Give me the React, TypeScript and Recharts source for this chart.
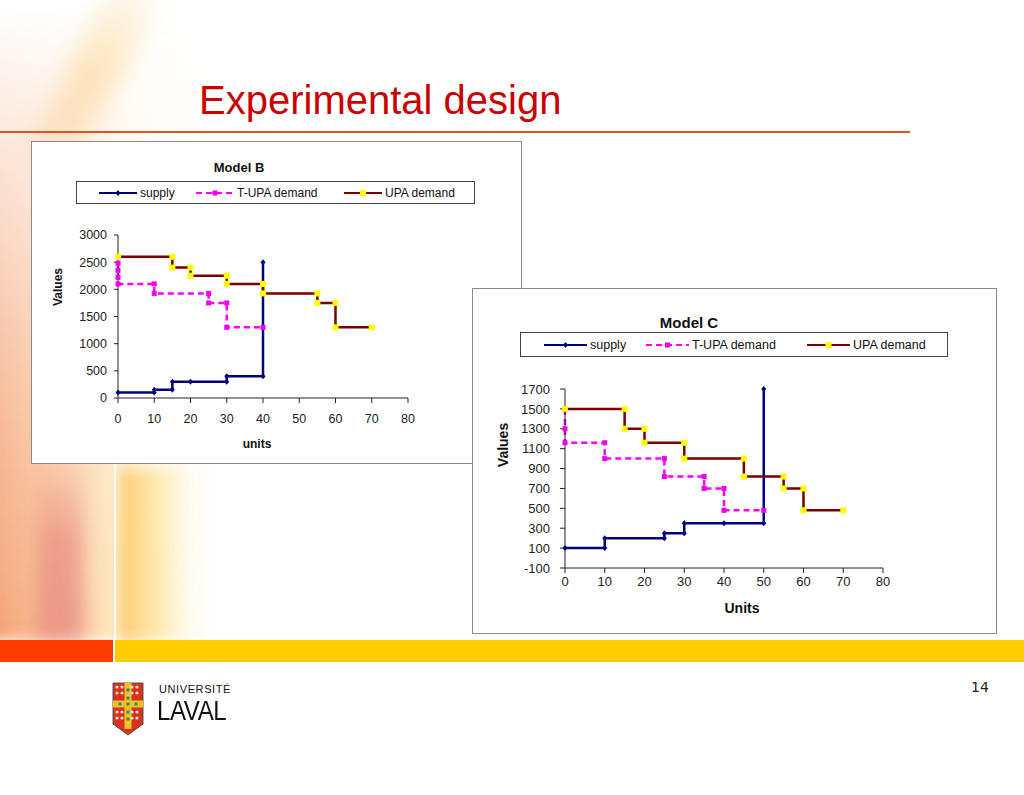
import { LineChart, Line, XAxis, YAxis } from "recharts";

// Model B
const B_SUPPLY_UNITS = [0, 10, 10, 15, 15, 20, 30, 30, 40, 40];
const B_SUPPLY_VALUES = [100, 100, 150, 150, 300, 300, 300, 400, 400, 2500];
const B_TUPA_UNITS = [0, 0, 0, 0, 10, 10, 25, 25, 30, 30, 40];
const B_TUPA_VALUES = [2480, 2350, 2220, 2100, 2100, 1925, 1925, 1750, 1750, 1300, 1300];
const B_UPA_UNITS = [0, 15, 15, 20, 20, 30, 30, 40, 40, 55, 55, 60, 60, 70];
const B_UPA_VALUES = [2600, 2600, 2400, 2400, 2250, 2250, 2100, 2100, 1925, 1925, 1750, 1750, 1300, 1300];

// Model C
const C_SUPPLY_UNITS = [0, 10, 10, 25, 25, 30, 30, 40, 50, 50];
const C_SUPPLY_VALUES = [100, 100, 200, 200, 250, 250, 350, 350, 350, 1700];
const C_TUPA_UNITS = [0, 0, 0, 10, 10, 25, 25, 35, 35, 40, 40, 50];
const C_TUPA_VALUES = [1500, 1300, 1160, 1160, 1000, 1000, 820, 820, 700, 700, 480, 480];
const C_UPA_UNITS = [0, 15, 15, 20, 20, 30, 30, 45, 45, 55, 55, 60, 60, 70];
const C_UPA_VALUES = [1500, 1500, 1300, 1300, 1160, 1160, 1000, 1000, 820, 820, 700, 700, 480, 480];

const X_TICKS = [0, 10, 20, 30, 40, 50, 60, 70, 80];
const B_Y_TICKS = [0, 500, 1000, 1500, 2000, 2500, 3000];
const C_Y_TICKS = [-100, 100, 300, 500, 700, 900, 1100, 1300, 1500, 1700];
const SERIES_NAMES = ["supply", "T-UPA demand", "UPA demand"];

const FONT = "'Liberation Sans', Arial, sans-serif";

type Pt = { x: number; y: number };
const toPoints = (units: number[], values: number[]): Pt[] =>
  units.map((x, i) => ({ x, y: values[i] }));

type SeriesStyle = {
  stroke: string;
  dash?: string;
  marker: "diamond" | "square";
  markerFill: string;
  markerSize: number;
};

const STYLES: SeriesStyle[] = [
  { stroke: "#000080", marker: "diamond", markerFill: "#000080", markerSize: 2.5 },
  { stroke: "#ff00ff", dash: "6 4", marker: "square", markerFill: "#ee00ee", markerSize: 2.5 },
  { stroke: "#7a0000", marker: "square", markerFill: "#ffff00", markerSize: 3 },
];

function markerPath(kind: string, cx: number, cy: number, s: number) {
  if (kind === "diamond") {
    return `M${cx},${cy - s * 1.2}L${cx + s},${cy}L${cx},${cy + s * 1.2}L${cx - s},${cy}Z`;
  }
  return `M${cx - s},${cy - s}h${2 * s}v${2 * s}h${-2 * s}Z`;
}

function makeDot(st: SeriesStyle, tag: string) {
  return (p: any) => (
    <path
      key={`${tag}-${p.index}`}
      d={markerPath(st.marker, p.cx, p.cy, st.markerSize)}
      fill={st.markerFill}
    />
  );
}

type PanelProps = {
  title: string;
  series: Pt[][];
  left: number;
  top: number;
  width: number;
  height: number;
  margin: { top: number; right: number; bottom: number; left: number };
  yWidth: number;
  yDomain: [number, number];
  yTicks: number[];
  xTickGap: number;
  yTickGap: number;
  yTickSize: number;
  tickFont: number;
  titlePos: [number, number, number];
  legend: { left: number; top: number; width: number; height: number; items: number[]; lineLen: number; font: number };
  xLabel: string;
  xLabelPos: [number, number];
  yLabelPos: [number, number];
  labelFont: number;
};

function Centered({ x, y, size, rotate, children }: any) {
  return (
    <div
      style={{
        position: "absolute",
        left: x,
        top: y,
        transform: `translate(-50%, -50%)${rotate ? " rotate(-90deg)" : ""}`,
        fontFamily: FONT,
        fontWeight: 700,
        fontSize: size,
        color: "#111",
        whiteSpace: "nowrap",
        lineHeight: 1,
      }}
    >
      {children}
    </div>
  );
}

function Panel(p: PanelProps) {
  return (
    <div
      style={{
        position: "absolute",
        left: p.left,
        top: p.top,
        width: p.width,
        height: p.height,
        background: "#fff",
        boxShadow: "inset 0 0 0 1px #8a8a8a",
      }}
    >
      <Centered x={p.titlePos[0]} y={p.titlePos[1]} size={p.titlePos[2]}>
        {p.title}
      </Centered>
      <div
        style={{
          position: "absolute",
          left: p.legend.left,
          top: p.legend.top,
          width: p.legend.width,
          height: p.legend.height,
          boxSizing: "border-box",
          border: "1px solid #444",
        }}
      >
        {SERIES_NAMES.map((name, i) => {
          const st = STYLES[i];
          const L = p.legend.lineLen;
          const h = p.legend.height - 2;
          return (
            <div
              key={name}
              style={{
                position: "absolute",
                left: p.legend.items[i],
                top: 0,
                height: h,
                display: "flex",
                alignItems: "center",
                fontFamily: FONT,
                fontSize: p.legend.font,
                color: "#111",
                whiteSpace: "nowrap",
              }}
            >
              <svg width={L} height={10} style={{ marginRight: 3 }}>
                <line x1={0} y1={5} x2={L} y2={5} stroke={st.stroke} strokeWidth={2} strokeDasharray={st.dash} />
                <path d={markerPath(st.marker, L / 2, 5, st.markerSize)} fill={st.markerFill} />
              </svg>
              {name}
            </div>
          );
        })}
      </div>
      <div style={{ position: "absolute", left: 0, top: 0 }}>
        <LineChart width={p.width} height={p.height} margin={p.margin}>
          <XAxis
            type="number"
            dataKey="x"
            domain={[0, 80]}
            ticks={X_TICKS}
            interval={0}
            height={30}
            tickSize={5}
            tickMargin={p.xTickGap}
            axisLine={{ stroke: "#222" }}
            tickLine={{ stroke: "#222" }}
            tick={{ fontSize: p.tickFont, fill: "#222", fontFamily: FONT }}
          />
          <YAxis
            type="number"
            dataKey="y"
            domain={p.yDomain}
            ticks={p.yTicks}
            interval={0}
            width={p.yWidth}
            tickSize={p.yTickSize}
            tickMargin={p.yTickGap}
            axisLine={{ stroke: "#222" }}
            tickLine={{ stroke: "#222" }}
            tick={{ fontSize: p.tickFont, fill: "#222", fontFamily: FONT }}
          />
          {p.series.map((pts, i) => (
            <Line
              key={SERIES_NAMES[i]}
              data={pts}
              dataKey="y"
              name={SERIES_NAMES[i]}
              type="linear"
              stroke={STYLES[i].stroke}
              strokeWidth={2.5}
              strokeDasharray={STYLES[i].dash}
              dot={makeDot(STYLES[i], `${p.title}-${i}`)}
              activeDot={false}
              isAnimationActive={false}
            />
          ))}
        </LineChart>
      </div>
      <Centered x={p.xLabelPos[0]} y={p.xLabelPos[1]} size={p.labelFont}>
        {p.xLabel}
      </Centered>
      <Centered x={p.yLabelPos[0]} y={p.yLabelPos[1]} size={p.labelFont} rotate>
        Values
      </Centered>
    </div>
  );
}

function Shield() {
  const fleur = [
    [5, 5], [10, 5], [20, 5], [25, 5],
    [5, 11], [10, 11], [20, 11], [25, 11],
    [5, 30], [10, 30], [20, 30], [25, 30],
    [5, 36], [10, 36], [20, 36], [25, 36],
  ];
  const dots = [[15, 8], [15, 16], [7, 22], [15, 22], [23, 22], [15, 30], [15, 37]];
  return (
    <svg width={32} height={54} style={{ position: "absolute", left: 112, top: 682 }}>
      <path d="M1,1H31V42L16,53L1,42Z" fill="#d8321e" stroke="#555" strokeWidth={1} />
      <rect x={12.5} y={1} width={7} height={46} fill="#f4c21a" />
      <rect x={1} y={18.5} width={30} height={7} fill="#f4c21a" />
      {fleur.map(([x, y], i) => (
        <circle key={i} cx={x} cy={y} r={1.6} fill="#f6e6d0" />
      ))}
      {dots.map(([x, y], i) => (
        <circle key={"d" + i} cx={x + 1} cy={y} r={1.8} fill="#1f8f8f" />
      ))}
    </svg>
  );
}

export default function App() {
  const seriesB = [
    toPoints(B_SUPPLY_UNITS, B_SUPPLY_VALUES),
    toPoints(B_TUPA_UNITS, B_TUPA_VALUES),
    toPoints(B_UPA_UNITS, B_UPA_VALUES),
  ];
  const seriesC = [
    toPoints(C_SUPPLY_UNITS, C_SUPPLY_VALUES),
    toPoints(C_TUPA_UNITS, C_TUPA_VALUES),
    toPoints(C_UPA_UNITS, C_UPA_VALUES),
  ];

  return (
    <div
      style={{
        position: "absolute",
        left: 0,
        top: 0,
        width: 1024,
        height: 795,
        background: "#fff",
        overflow: "hidden",
        fontFamily: FONT,
      }}
    >
      {/* left decoration */}
      <div
        style={{
          position: "absolute",
          left: -20,
          top: 0,
          width: 240,
          height: 640,
          background:
            "linear-gradient(to right, rgba(238,120,60,0.75) 0%, rgba(245,150,80,0.6) 30%, rgba(252,200,110,0.45) 55%, rgba(255,225,150,0.25) 75%, rgba(255,255,255,0) 100%)",
          WebkitMaskImage:
            "linear-gradient(to bottom, rgba(0,0,0,0) 0%, rgba(0,0,0,0.3) 25%, rgba(0,0,0,0.7) 60%, #000 100%)",
          maskImage:
            "linear-gradient(to bottom, rgba(0,0,0,0) 0%, rgba(0,0,0,0.3) 25%, rgba(0,0,0,0.7) 60%, #000 100%)",
          filter: "blur(6px)",
        }}
      />
      <div
        style={{
          position: "absolute",
          left: 38,
          top: 460,
          width: 45,
          height: 180,
          background:
            "linear-gradient(to bottom, rgba(228,110,110,0) 0%, rgba(226,115,115,0.5) 45%, rgba(226,125,125,0.65) 100%)",
          filter: "blur(9px)",
        }}
      />
      <div
        style={{
          position: "absolute",
          left: 120,
          top: 470,
          width: 70,
          height: 170,
          background: "linear-gradient(to right, rgba(250,190,80,0.7), rgba(255,225,130,0.45) 60%, rgba(255,255,255,0))",
          filter: "blur(6px)",
        }}
      />
      <div
        style={{
          position: "absolute",
          left: 70,
          top: -30,
          width: 50,
          height: 200,
          transform: "rotate(28deg)",
          background: "linear-gradient(to bottom, rgba(255,220,150,0.1), rgba(252,200,120,0.45), rgba(250,170,90,0.2))",
          filter: "blur(12px)",
        }}
      />
      <div style={{ position: "absolute", left: 114, top: 380, width: 1.5, height: 260, background: "rgba(255,255,255,0.9)" }} />

      {/* title */}
      <div
        style={{
          position: "absolute",
          left: 199,
          top: 80,
          fontSize: 40,
          color: "#cc0000",
          lineHeight: 1,
          whiteSpace: "nowrap",
        }}
      >
        Experimental design
      </div>
      <div style={{ position: "absolute", left: 0, top: 131, width: 910, height: 2, background: "#e4531f" }} />

      <Panel
        title="Model B"
        series={seriesB}
        left={31}
        top={141}
        width={491}
        height={323}
        margin={{ top: 94, right: 114, bottom: 36, left: 0 }}
        yWidth={87}
        yDomain={[0, 3000]}
        yTicks={B_Y_TICKS}
        xTickGap={11}
        yTickGap={7}
        yTickSize={4}
        tickFont={12.5}
        titlePos={[208, 26, 13]}
        legend={{ left: 45, top: 40, width: 399, height: 23, items: [22, 119, 267], lineLen: 38, font: 12 }}
        xLabel="units"
        xLabelPos={[226, 303]}
        yLabelPos={[27, 146]}
        labelFont={12}
      />
      <Panel
        title="Model C"
        series={seriesC}
        left={472}
        top={288}
        width={525}
        height={346}
        margin={{ top: 101, right: 114, bottom: 36, left: 0 }}
        yWidth={93}
        yDomain={[-100, 1700]}
        yTicks={C_Y_TICKS}
        xTickGap={4}
        yTickGap={10}
        yTickSize={5}
        tickFont={13}
        titlePos={[217, 34, 15]}
        legend={{ left: 48, top: 44, width: 428, height: 25, items: [23, 125, 286], lineLen: 43, font: 12.5 }}
        xLabel="Units"
        xLabelPos={[270, 320]}
        yLabelPos={[31, 157]}
        labelFont={14}
      />

      {/* bottom bars */}
      <div style={{ position: "absolute", left: 0, top: 640, width: 113, height: 22, background: "#ff3c00" }} />
      <div style={{ position: "absolute", left: 115, top: 640, width: 909, height: 22, background: "#ffcc00" }} />

      {/* logo */}
      <Shield />
      <div
        style={{
          position: "absolute",
          left: 159,
          top: 684,
          fontSize: 11,
          letterSpacing: 0.6,
          color: "#111",
          lineHeight: 1,
        }}
      >
        UNIVERSITÉ
      </div>
      <div
        style={{
          position: "absolute",
          left: 157,
          top: 697,
          fontSize: 28,
          color: "#111",
          lineHeight: 1,
          transform: "scaleX(0.86)",
          transformOrigin: "left top",
          letterSpacing: -0.5,
        }}
      >
        LAVAL
      </div>

      <div
        style={{
          position: "absolute",
          left: 971,
          top: 680,
          fontSize: 14,
          fontFamily: "'DejaVu Sans', sans-serif",
          color: "#222",
          lineHeight: 1,
        }}
      >
        14
      </div>
    </div>
  );
}
